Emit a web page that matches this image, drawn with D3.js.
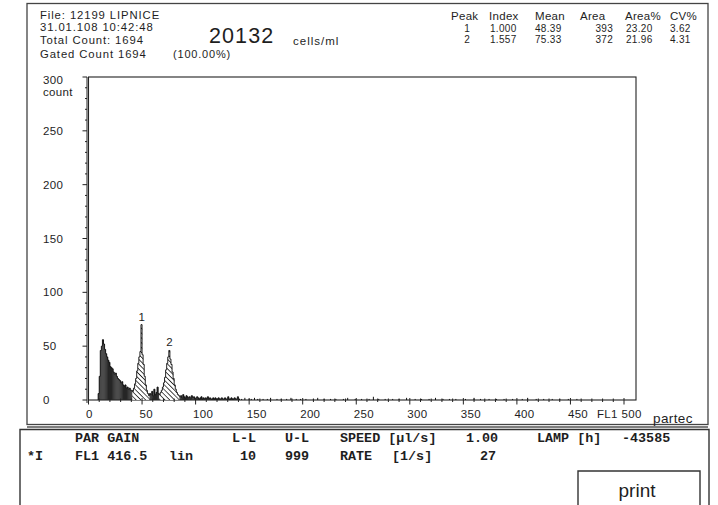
<!DOCTYPE html>
<html><head><meta charset="utf-8">
<script src="https://cdn.jsdelivr.net/npm/d3@7"></script>
<style>
html,body{margin:0;padding:0;background:#fff;}
svg{display:block;}
.sans{font-family:"Liberation Sans",Arial,sans-serif;fill:#1e1e1e;}
.mono{font-family:"Liberation Mono","DejaVu Sans Mono",monospace;font-weight:bold;fill:#1e1e1e;}
</style></head>
<body>
<svg id="c" width="718" height="505"></svg>
<script>
// ---------- data ----------
const firstChannel = 9;
const counts = [
  6,
  22,46,50,56,52,47,43,40,37,35, 31,30,29,26,24,25,22,20,19,18, 16,17,14,13,14,11,12,10,11,9, 9,
  8,11,15,20,27,34,40,45,70,42,33,22,14,9,6,4,
  6,5,8,4,10,5,7,12,6,
  5,7,9,12,16,21,28,34,40,46,38,33,26,20,14,10,7,5,4,
  3,4,2,5,3,2,4,3,2,3,1,4,2,3,1,2,3,2,1,2,3,1,2,1,2,1,3,1,2,1,1,2,1,2,1,1,2,1,1,2,1,1,2,1,1,3,1,1,2,1,1,2,1,1,3,1
];
const tailChannels = [143,146,150,152,155,158,163,167,170,176,180,185,189,194,198,203,210,214,220,226,231,238,242,249,255,262,266,271,277,284,290,297,305,311,318,324,331,337,343,352,360,366,374,381,388,396,405,410,418,425,433,440,448,456];
const tailCounts   = [1,2,1,1,2,1,1,1,2,1,1,1,2,1,1,1,1,2,1,1,1,1,2,1,1,1,3,1,1,1,1,2,1,1,1,2,1,1,1,1,2,1,1,1,1,1,1,2,1,1,1,1,1,1];
const peakRanges = [[41,56],[66,84]];
const peakLabels = ["1","2"];
const peakChannels = [49,75];
const xTicks = [0,50,100,150,200,250,300,350,400,450,500];
const yTicks = [0,50,100,150,200,250,300];
const headerLeft = ["File: 12199 LIPNICE","31.01.108  10:42:48","Total Count:  1694","Gated Count 1694"];
const tableHead = ["Peak","Index","Mean","Area","Area%","CV%"];
const tableRows = [["1","1.000","48.39","393","23.20","3.62"],["2","1.557","75.33","372","21.96","4.31"]];

// ---------- drawing ----------
const svg = d3.select("#c");
const x = d3.scaleLinear().domain([0,500]).range([88.5,624]);
const y = d3.scaleLinear().domain([0,300]).range([400,77]);

const defs = svg.append("defs");
const pat = defs.append("pattern").attr("id","hatch").attr("patternUnits","userSpaceOnUse")
  .attr("width",3.4).attr("height",3.4).attr("patternTransform","rotate(-45)");
pat.append("rect").attr("width",3.4).attr("height",3.4).attr("fill","#fff");
pat.append("line").attr("x1",0).attr("y1",0).attr("x2",0).attr("y2",3.4).attr("stroke","#111").attr("stroke-width",1.6);

// outer frames
svg.append("rect").attr("x",27).attr("y",3.5).attr("width",681).attr("height",421).attr("fill","none").attr("stroke","#444").attr("stroke-width",1.3);
svg.append("line").attr("x1",27).attr("x2",708).attr("y1",427).attr("y2",427).attr("stroke","#555").attr("stroke-width",1.5);
svg.append("path").attr("d","M20,508 V429.5 H709 V508").attr("fill","none").attr("stroke","#333").attr("stroke-width",1.4);

// header
const hl = svg.append("g").attr("class","sans").attr("font-size",11.3).attr("letter-spacing",0.9);
[18.5,31,44,57.5].forEach((b,i)=>hl.append("text").attr("x",40).attr("y",b).text(headerLeft[i]));
svg.append("text").attr("class","sans").attr("x",209).attr("y",42.8).attr("font-size",21.5).attr("letter-spacing",1.1).text("20132");
svg.append("text").attr("class","sans").attr("x",293).attr("y",45).attr("font-size",11.5).attr("letter-spacing",1).text("cells/ml");
svg.append("text").attr("class","sans").attr("x",173).attr("y",57.5).attr("font-size",11).attr("letter-spacing",0.8).text("(100.00%)");

const thX = [451,489,535,580,625,670];
const tg = svg.append("g").attr("class","sans").attr("letter-spacing",0.3);
tableHead.forEach((t,i)=>tg.append("text").attr("x",thX[i]).attr("y",20).attr("font-size",11.5).text(t));
const colX = [470,490,535,613,626,670];
const colAnchor = ["end","start","start","end","start","start"];
tableRows.forEach((r,j)=>r.forEach((t,i)=>tg.append("text").attr("x",colX[i]).attr("y",31.8+j*11.3).attr("font-size",10).attr("text-anchor",colAnchor[i]).text(t)));

// plot frame
svg.append("rect").attr("x",x(0)).attr("y",y(300)).attr("width",636-x(0)).attr("height",y(0)-y(300)).attr("fill","none").attr("stroke","#222").attr("stroke-width",1.1);

// histogram bins
const bins = counts.map((n,i)=>({c:firstChannel+i,n}));
tailChannels.forEach((c,i)=>bins.push({c,n:tailCounts[i]}));
const inPeak = c => peakRanges.some(r=>c>=r[0]&&c<=r[1]);
const main = bins.filter(b=>b.c<firstChannel+counts.length);
svg.append("g").selectAll("rect").data(main).join("rect")
  .attr("x",d=>x(d.c)).attr("width",d=>x(d.c+1)-x(d.c)+0.15)
  .attr("y",d=>y(d.n)).attr("height",d=>y(0)-y(d.n))
  .attr("fill",d=>inPeak(d.c)?"url(#hatch)":"#262626");
// step outline
const steps = [];
main.forEach(b=>{steps.push([x(b.c),y(b.n)]);steps.push([x(b.c+1),y(b.n)]);});
svg.append("path").attr("d","M"+x(firstChannel)+","+y(0)+"L"+steps.map(p=>p.join(",")).join("L")+"L"+x(firstChannel+counts.length)+","+y(0))
  .attr("fill","none").attr("stroke","#111").attr("stroke-width",0.9);
// sparse tail events
svg.append("g").selectAll("line").data(bins.filter(b=>b.c>=firstChannel+counts.length)).join("line")
  .attr("x1",d=>x(d.c)).attr("x2",d=>x(d.c)).attr("y1",y(0)).attr("y2",d=>y(d.n)).attr("stroke","#111").attr("stroke-width",1);

// peak labels
peakLabels.forEach((t,i)=>{
  const c = peakChannels[i]; const n = counts[c-firstChannel];
  svg.append("text").attr("class","sans").attr("font-size",11.5).attr("x",x(c)-2.5).attr("y",y(n)-4).text(t);
});

// y axis
const ya = svg.append("g").attr("stroke","#222").attr("stroke-width",1);
ya.append("line").attr("x1",87).attr("x2",87).attr("y1",y(300)).attr("y2",y(0)+3);
d3.range(0,301,10).forEach(v=>{
  const major = v%50===0;
  ya.append("line").attr("x1",major?82.5:85).attr("x2",87).attr("y1",y(v)).attr("y2",y(v));
});
const yl = svg.append("g").attr("class","sans").attr("font-size",11.5).attr("letter-spacing",0.3);
yTicks.forEach(v=>yl.append("text").attr("x",43).attr("y",y(v)+(v===300?7:4)).text(v));
yl.append("text").attr("x",43).attr("y",96).text("count");

// x axis
const xa = svg.append("g").attr("stroke","#222").attr("stroke-width",1);
d3.range(0,501,10).forEach(v=>{
  const major = v%50===0;
  xa.append("line").attr("x1",x(v)).attr("x2",x(v)).attr("y1",major?398:398.5).attr("y2",major?404.5:402);
});
const xl = svg.append("g").attr("class","sans").attr("font-size",11.5).attr("letter-spacing",0.3);
xTicks.forEach(v=>xl.append("text").attr("x",x(v)-2.5).attr("y",418).text(v));
xl.append("text").attr("x",597).attr("y",418).text("FL1");
svg.append("text").attr("class","sans").attr("x",653).attr("y",423).attr("font-size",13.5).attr("letter-spacing",0.4).text("partec");

// bottom panel
const bp = svg.append("g").attr("class","mono").attr("font-size",13.4);
const row1 = [["PAR GAIN",75],["L-L",232],["U-L",285],["SPEED [µl/s]",340],["1.00",466],["LAMP [h]",537],["-43585",622]];
const row2 = [["*I",27],["FL1 416.5",75],["lin",169],["10",240],["999",285],["RATE",340],["[1/s]",392],["27",480]];
row1.forEach(d=>bp.append("text").attr("x",d[1]).attr("y",442).text(d[0]));
row2.forEach(d=>bp.append("text").attr("x",d[1]).attr("y",460).text(d[0]));
svg.append("path").attr("d","M578,508 V471 H700 V508").attr("fill","none").attr("stroke","#333").attr("stroke-width",1.4);
svg.append("text").attr("class","sans").attr("x",637).attr("y",497).attr("text-anchor","middle").attr("font-size",19).text("print");
</script>
</body></html>
